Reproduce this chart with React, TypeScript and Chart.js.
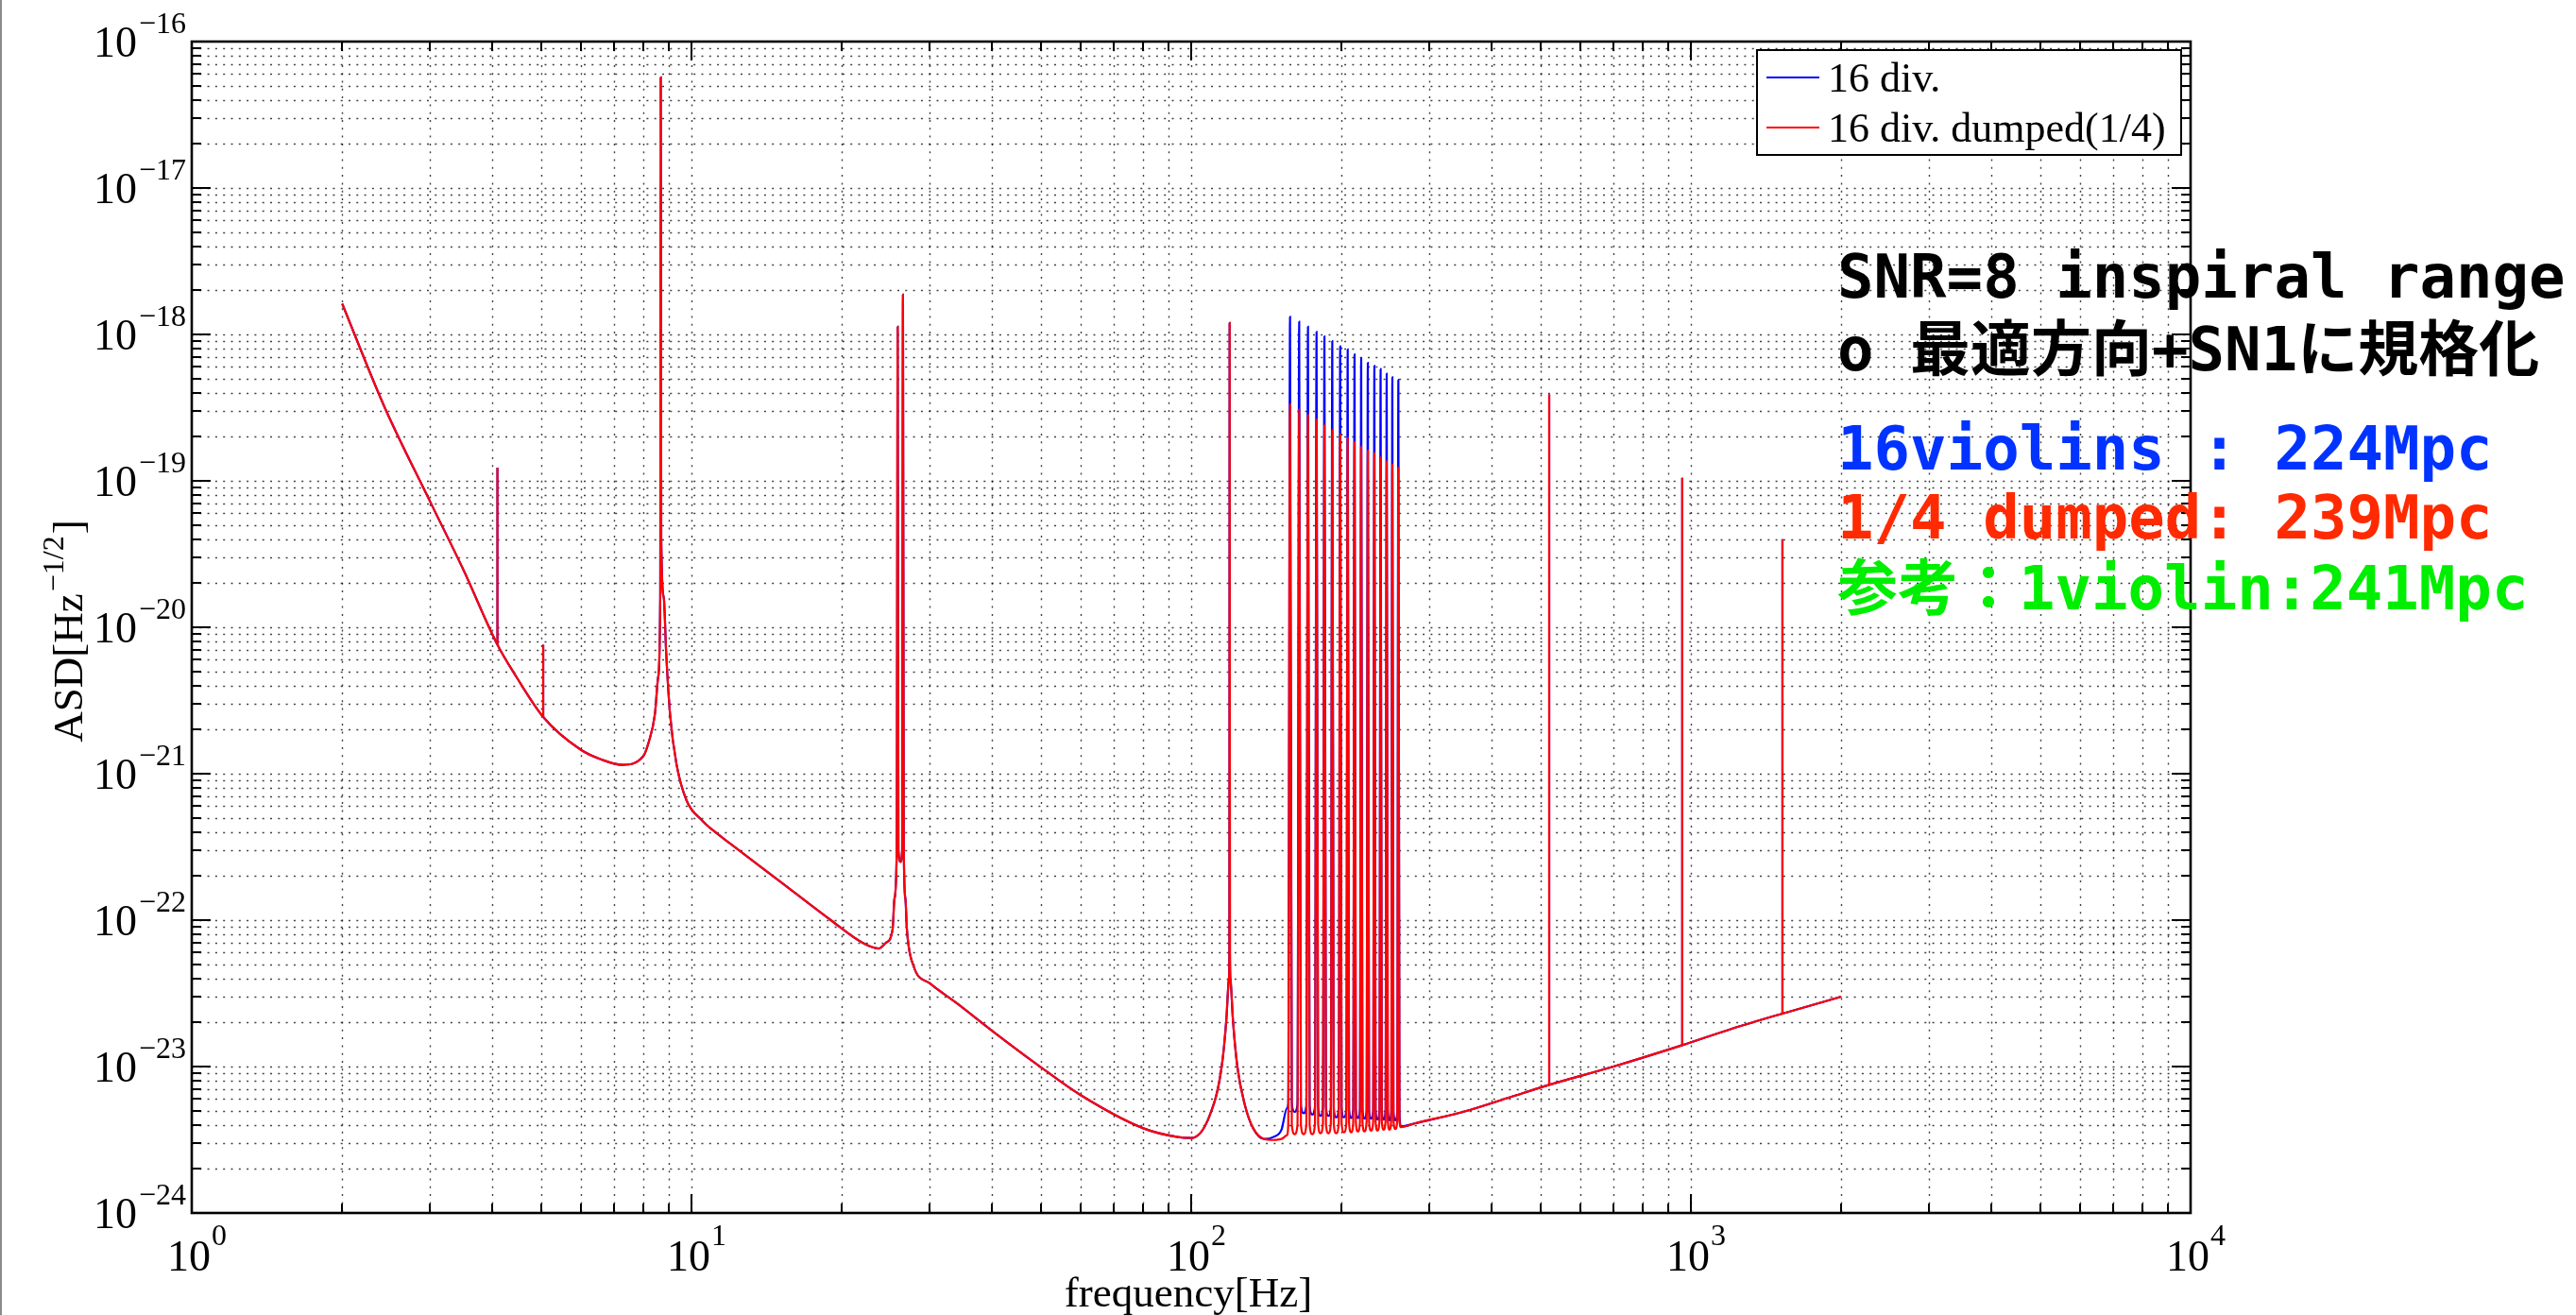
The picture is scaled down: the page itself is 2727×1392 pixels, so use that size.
import React, { useEffect, useRef } from "react";
import { Chart, registerables } from "chart.js";

Chart.register(...registerables);

// ---------- data ----------
const SERIES_LABELS = ["16 div.", "16 div. dumped(1/4)"];

// smooth common part, 2 Hz .. 140 Hz (resonances at 8.7, 26 and 119 Hz included)
const LOW_FREQ = [
  2, 2.43, 3, 3.49, 4.09, 4.46, 5.05, 6, 6.6, 7.26, 8, 8.21, 8.45, 8.58, 8.66, 8.68, 8.7, 8.8, 8.9,
  9.06, 9.33, 9.77, 10.5, 11, 12, 15, 19, 22, 23.7, 24.5, 25.27, 25.48, 25.75, 25.86, 25.95, 26.2,
  26.4, 26.5, 26.6, 26.8, 26.98, 27.8, 30, 34, 40, 50, 60, 80, 94, 100, 108.8, 115.1, 117.6, 119.0,
  119.25, 119.4, 119.55, 119.8, 121.2, 123.7, 128, 133, 140,
];
const LOW_ASD = [
  1.62e-18, 3.2e-19, 7.2e-20, 2.5e-20, 7.6e-21, 4.6e-21, 2.44e-21, 1.46e-21, 1.25e-21, 1.15e-21,
  1.31e-21, 1.64e-21, 2.55e-21, 4.6e-21, 1.6e-20, 5.7e-17, 4e-20, 1.6e-20, 6.7e-21, 2.55e-21,
  1.17e-21, 6.6e-22, 4.8e-22, 4.15e-22, 3.3e-22, 1.85e-22, 1.0e-22, 7.0e-23, 6.4e-23, 7.0e-23, 8.7e-23,
  1.4e-22, 3e-22, 1.13e-18, 3e-22, 2.5e-22, 3e-22, 1.87e-18, 3e-22, 1.4e-22, 8.7e-23, 4.9e-23,
  3.7e-23, 2.7e-23, 1.75e-23, 9.9e-24, 6.4e-24, 3.8e-24, 3.3e-24, 3.25e-24, 4.6e-24, 1e-23, 2.1e-23,
  4e-23, 6e-23, 1.2e-18, 6e-23, 4e-23, 2.1e-23, 1e-23, 5.5e-24, 3.8e-24, 3.2e-24,
];

// just before the violin modes
const PRE_VIOLIN_FREQ = [146, 151.6, 155.5];
const PRE_VIOLIN_BLUE = [3.3e-24, 3.7e-24, 5.2e-24];
const PRE_VIOLIN_RED = [3.15e-24, 3.2e-24, 3.4e-24];

// 16 violin modes
const VIOLIN_FREQ = [
  157.7, 164.5, 171.3, 178.2, 184.8, 191.6, 198.7, 205.7, 212.3, 218.9, 225.7, 232.6, 239.4, 246.2,
  252.7, 259.8,
];
const VIOLIN_FOOT_L_FREQ = [
  156.4, 163.2, 170.0, 176.9, 183.5, 190.3, 197.4, 204.4, 211.0, 217.6, 224.4, 231.3, 238.1, 244.9,
  251.4, 258.5,
];
const VIOLIN_FOOT_R_FREQ = [
  159.0, 165.8, 172.6, 179.5, 186.1, 192.9, 200.0, 207.0, 213.6, 220.2, 227.0, 233.9, 240.7, 247.5,
  254.0, 261.1,
];
const VIOLIN_TOP_BLUE = [
  1.32e-18, 1.22e-18, 1.13e-18, 1.04e-18, 9.7e-19, 9.0e-19, 8.3e-19, 7.9e-19, 7.3e-19, 6.9e-19,
  6.4e-19, 6.1e-19, 5.8e-19, 5.4e-19, 5.1e-19, 4.9e-19,
];
const VIOLIN_TOP_RED = [
  3.33e-19, 3.08e-19, 2.81e-19, 2.62e-19, 2.39e-19, 2.22e-19, 2.07e-19, 1.96e-19, 1.84e-19, 1.71e-19,
  1.61e-19, 1.54e-19, 1.44e-19, 1.36e-19, 1.29e-19, 1.23e-19,
];
const VIOLIN_FOOT_BLUE = [
  5.6e-24, 5.5e-24, 5.4e-24, 5.3e-24, 5.3e-24, 5.2e-24, 5.2e-24, 5.1e-24, 5.1e-24, 5.1e-24, 5.0e-24,
  5.0e-24, 5.0e-24, 5.0e-24, 4.9e-24, 4.8e-24,
];
const VIOLIN_FOOT_RED = [
  4.0e-24, 4.0e-24, 4.0e-24, 4.05e-24, 4.05e-24, 4.05e-24, 4.1e-24, 4.1e-24, 4.15e-24, 4.15e-24,
  4.2e-24, 4.2e-24, 4.25e-24, 4.25e-24, 4.3e-24, 4.3e-24,
];
const TROUGH_FREQ = [
  161.1, 167.9, 174.7, 181.5, 188.2, 195.1, 202.2, 209.0, 215.6, 222.3, 229.1, 236.0, 242.8, 249.4,
  256.2, 263.0,
];
const TROUGH_BLUE = [
  4.9e-24, 4.8e-24, 4.7e-24, 4.6e-24, 4.6e-24, 4.5e-24, 4.5e-24, 4.45e-24, 4.45e-24, 4.4e-24,
  4.4e-24, 4.35e-24, 4.35e-24, 4.3e-24, 4.3e-24, 3.9e-24,
];
const TROUGH_RED = [
  3.45e-24, 3.45e-24, 3.45e-24, 3.5e-24, 3.5e-24, 3.5e-24, 3.55e-24, 3.55e-24, 3.6e-24, 3.6e-24,
  3.65e-24, 3.65e-24, 3.7e-24, 3.7e-24, 3.75e-24, 3.85e-24,
];

// smooth common part, 281 Hz .. 2 kHz
const HIGH_FREQ = [281, 350, 430, 520.6, 700, 961, 1200, 1525, 2000];
const HIGH_ASD = [4.1e-24, 4.9e-24, 6.1e-24, 7.5e-24, 1.0e-23, 1.4e-23, 1.8e-23, 2.3e-23, 3.0e-23];

// very narrow lines (drawn as vertical spikes)
const LINE_FREQ = [4.09, 5.05, 520.6, 961, 1525];
const LINE_FOOT = [7.6e-21, 2.44e-21, 7.5e-24, 1.4e-23, 2.3e-23];
const LINE_TOP = [1.23e-19, 7.6e-21, 3.9e-19, 1.05e-19, 4e-20];

const X_TICK_EXP = [0, 1, 2, 3, 4];
const Y_TICK_EXP = [-24, -23, -22, -21, -20, -19, -18, -17, -16];

const ANNOTATIONS = [
  { text: "SNR=8 inspiral range", color: "#000000" },
  { text: "o 最適方向+SN1に規格化", color: "#000000" },
  { text: "16violins : 224Mpc", color: "#0033ff" },
  { text: "1/4 dumped: 239Mpc", color: "#ff2a00" },
  { text: "参考：1violin:241Mpc", color: "#00ee00" },
];

// ---------- helpers ----------
type Pt = { x: number; y: number | null };
const pairs = (fs: number[], vs: number[]): Pt[] => fs.map((f, i) => ({ x: f, y: vs[i] }));

function buildSeries(pre: number[], foot: number[], top: number[], trough: number[]): Pt[] {
  const pts: Pt[] = [...pairs(LOW_FREQ, LOW_ASD), ...pairs(PRE_VIOLIN_FREQ, pre)];
  VIOLIN_FREQ.forEach((f, i) => {
    pts.push({ x: VIOLIN_FOOT_L_FREQ[i], y: foot[i] });
    pts.push({ x: f, y: top[i] });
    pts.push({ x: VIOLIN_FOOT_R_FREQ[i], y: foot[i] });
    pts.push({ x: TROUGH_FREQ[i], y: trough[i] });
  });
  return pts.concat(pairs(HIGH_FREQ, HIGH_ASD));
}

function buildLines(): Pt[] {
  const pts: Pt[] = [];
  LINE_FREQ.forEach((f, i) => {
    pts.push({ x: f, y: LINE_FOOT[i] });
    pts.push({ x: f, y: LINE_TOP[i] });
    pts.push({ x: f, y: null });
  });
  return pts;
}

const SERIF = '"Liberation Serif", "Times New Roman", serif';
const MONO = '"DejaVu Sans Mono", "Noto Sans CJK JP", monospace';

const matlabPlugin = {
  id: "matlabAxes",
  beforeDatasetsDraw(chart: any) {
    const { ctx, chartArea: a, scales } = chart;
    const xs = scales.x;
    const ys = scales.y;
    ctx.save();
    ctx.strokeStyle = "rgba(0,0,0,0.75)";
    ctx.lineWidth = 1.4;
    ctx.setLineDash([2, 6.3]);
    for (let d = 0; d < 4; d++) {
      for (let k = 1; k <= 9; k++) {
        const v = k * Math.pow(10, d);
        if (v <= 1) continue;
        const px = Math.round(xs.getPixelForValue(v)) + 0.5;
        ctx.beginPath();
        ctx.moveTo(px, a.top);
        ctx.lineTo(px, a.bottom);
        ctx.stroke();
      }
    }
    for (let d = -24; d < -16; d++) {
      for (let k = 1; k <= 9; k++) {
        const v = k * Math.pow(10, d);
        if (d === -24 && k === 1) continue;
        const py = Math.round(ys.getPixelForValue(v)) + 0.5;
        ctx.beginPath();
        ctx.moveTo(a.left, py);
        ctx.lineTo(a.right, py);
        ctx.stroke();
      }
    }
    ctx.restore();
  },
  afterDatasetsDraw(chart: any) {
    const { ctx, chartArea: a, scales } = chart;
    const xs = scales.x;
    const ys = scales.y;
    ctx.save();
    ctx.strokeStyle = "#000";
    ctx.lineWidth = 2;
    ctx.setLineDash([]);
    for (let d = 0; d < 4; d++) {
      for (let k = 1; k <= 9; k++) {
        const v = k * Math.pow(10, d);
        if (v <= 1) continue;
        const len = k === 1 ? 20 : 10;
        const px = Math.round(xs.getPixelForValue(v));
        ctx.beginPath();
        ctx.moveTo(px, a.bottom);
        ctx.lineTo(px, a.bottom - len);
        ctx.moveTo(px, a.top);
        ctx.lineTo(px, a.top + len);
        ctx.stroke();
      }
    }
    for (let d = -24; d < -16; d++) {
      for (let k = 1; k <= 9; k++) {
        if (d === -24 && k === 1) continue;
        const v = k * Math.pow(10, d);
        const len = k === 1 ? 20 : 10;
        const py = Math.round(ys.getPixelForValue(v));
        ctx.beginPath();
        ctx.moveTo(a.left, py);
        ctx.lineTo(a.left + len, py);
        ctx.moveTo(a.right, py);
        ctx.lineTo(a.right - len, py);
        ctx.stroke();
      }
    }
    ctx.lineWidth = 2.6;
    ctx.strokeRect(a.left, a.top, a.right - a.left, a.bottom - a.top);
    ctx.restore();
  },
  afterDraw(chart: any) {
    const { ctx, chartArea: a, scales } = chart;
    const xs = scales.x;
    const ys = scales.y;
    ctx.save();
    ctx.fillStyle = "#000";
    ctx.textBaseline = "alphabetic";
    ctx.textAlign = "left";

    // y tick labels
    for (const e of Y_TICK_EXP) {
      const py = ys.getPixelForValue(Math.pow(10, e));
      const sup = "\u2212" + Math.abs(e);
      ctx.font = `32px ${SERIF}`;
      const ws = ctx.measureText(sup).width;
      const xr = a.left - 6;
      ctx.fillText(sup, xr - ws, py - 9);
      ctx.font = `46px ${SERIF}`;
      const wb = ctx.measureText("10").width;
      ctx.fillText("10", xr - ws - 2 - wb, py + 16);
    }
    // x tick labels
    for (const e of X_TICK_EXP) {
      const px = xs.getPixelForValue(Math.pow(10, e));
      ctx.font = `46px ${SERIF}`;
      const wb = ctx.measureText("10").width;
      const x0 = px - 3 - wb / 2;
      ctx.fillText("10", x0, a.bottom + 61);
      ctx.font = `32px ${SERIF}`;
      ctx.fillText(String(e), x0 + wb + 1, a.bottom + 34);
    }
    // x axis title
    ctx.font = `45px ${SERIF}`;
    ctx.textAlign = "center";
    ctx.fillText("frequency[Hz]", (a.left + a.right) / 2 - 3, a.bottom + 99);
    // y axis title (rotated)
    ctx.save();
    ctx.translate(87, (a.top + a.bottom) / 2 + 4);
    ctx.rotate(-Math.PI / 2);
    ctx.textAlign = "left";
    ctx.font = `45px ${SERIF}`;
    const p1 = "ASD[Hz";
    const p3 = "]";
    const w1 = ctx.measureText(p1).width;
    const w3 = ctx.measureText(p3).width;
    ctx.font = `32px ${SERIF}`;
    const p2 = "\u22121/2";
    const w2 = ctx.measureText(p2).width;
    let cx = -(w1 + w2 + w3 + 4) / 2;
    ctx.font = `45px ${SERIF}`;
    ctx.fillText(p1, cx, 0);
    cx += w1 + 2;
    ctx.font = `32px ${SERIF}`;
    ctx.fillText(p2, cx, -20);
    cx += w2 + 2;
    ctx.font = `45px ${SERIF}`;
    ctx.fillText(p3, cx, 0);
    ctx.restore();

    // legend
    const lw = 449;
    const lh = 111;
    const lx = a.right - 10 - lw;
    const ly = a.top + 9;
    ctx.fillStyle = "#fff";
    ctx.fillRect(lx, ly, lw, lh);
    ctx.strokeStyle = "#000";
    ctx.lineWidth = 2;
    ctx.strokeRect(lx, ly, lw, lh);
    const colors = ["#0000ff", "#ff0000"];
    const lineY = [29, 82];
    const textY = [44, 97];
    SERIES_LABELS.forEach((lab, i) => {
      ctx.strokeStyle = colors[i];
      ctx.lineWidth = 2;
      ctx.beginPath();
      ctx.moveTo(lx + 10, ly + lineY[i]);
      ctx.lineTo(lx + 66, ly + lineY[i]);
      ctx.stroke();
      ctx.fillStyle = "#000";
      ctx.font = `44px ${SERIF}`;
      ctx.textAlign = "left";
      ctx.fillText(lab, lx + 75, ly + textY[i]);
    });

    // annotations
    const annX = a.right - 374;
    const annY = [271, 348, 453, 526, 601];
    ctx.font = `bold 64px ${MONO}`;
    ctx.textAlign = "left";
    ANNOTATIONS.forEach((t, i) => {
      ctx.fillStyle = t.color;
      ctx.fillText(t.text, annX, a.top + annY[i]);
    });
    ctx.restore();
  },
};

export default function App() {
  const ref = useRef<HTMLCanvasElement | null>(null);
  useEffect(() => {
    if (!ref.current) return;
    const curve = { borderWidth: 2.2, pointRadius: 0, cubicInterpolationMode: "monotone" };
    const lines = { borderWidth: 2.2, pointRadius: 0, tension: 0, spanGaps: false };
    const chart = new Chart(ref.current, {
      type: "line",
      data: {
        datasets: [
          {
            ...curve,
            label: SERIES_LABELS[0],
            data: buildSeries(PRE_VIOLIN_BLUE, VIOLIN_FOOT_BLUE, VIOLIN_TOP_BLUE, TROUGH_BLUE),
            borderColor: "#0000ff",
            order: 3,
          },
          {
            ...lines,
            label: SERIES_LABELS[0] + " lines",
            data: buildLines(),
            borderColor: "#0000ff",
            order: 2,
          },
          {
            ...curve,
            label: SERIES_LABELS[1],
            data: buildSeries(PRE_VIOLIN_RED, VIOLIN_FOOT_RED, VIOLIN_TOP_RED, TROUGH_RED),
            borderColor: "#ff0000",
            order: 1,
          },
          {
            ...lines,
            label: SERIES_LABELS[1] + " lines",
            data: buildLines(),
            borderColor: "#ff0000",
            order: 0,
          },
        ],
      },
      options: {
        animation: false,
        responsive: false,
        events: [],
        layout: { padding: { left: 203, top: 44, right: 408, bottom: 108 } },
        plugins: { legend: { display: false }, tooltip: { enabled: false } },
        scales: {
          x: {
            type: "logarithmic",
            min: 1,
            max: 1e4,
            ticks: { display: false },
            grid: { display: false, drawTicks: false },
            border: { display: false },
          },
          y: {
            type: "logarithmic",
            min: 1e-24,
            max: 1e-16,
            ticks: { display: false },
            grid: { display: false, drawTicks: false },
            border: { display: false },
          },
        },
      },
      plugins: [matlabPlugin],
    } as any);
    return () => chart.destroy();
  }, []);

  return (
    <div style={{ position: "fixed", left: 0, top: 0, width: 2727, height: 1392, background: "#fff" }}>
      <div style={{ position: "absolute", left: 0, top: 0, width: 2, height: 1392, background: "#8a8a8a" }} />
      <canvas ref={ref} width={2727} height={1392} style={{ display: "block", width: 2727, height: 1392 }} />
    </div>
  );
}
